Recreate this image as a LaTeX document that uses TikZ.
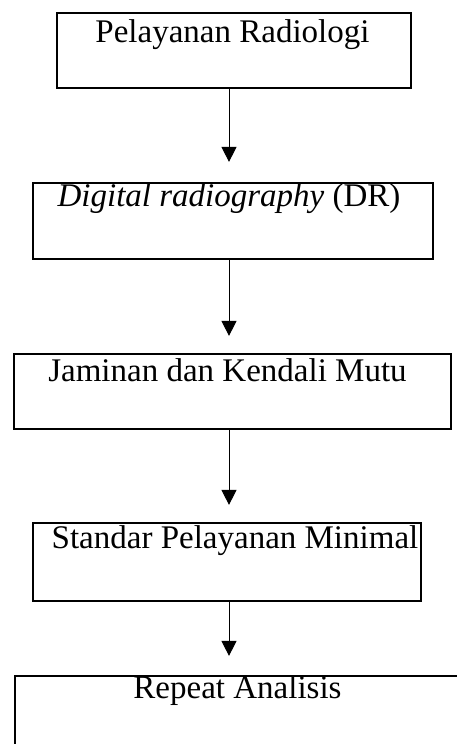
\documentclass[tikz,border=0pt]{standalone}
\usepackage{fontspec}
\setmainfont{Liberation Serif}
\usetikzlibrary{arrows.meta}
\begin{document}
\begin{tikzpicture}[x=1pt,y=-1pt,
  box/.style={draw,line width=2.2pt,rectangle,inner sep=0pt},
  lbl/.style={anchor=base,inner sep=0pt,font=\fontsize{33}{40}\selectfont},
  arr/.style={-{Triangle[width=15pt,length=15pt]},line width=1pt}]
\useasboundingbox (0,0) rectangle (457,744);
\clip (0,0) rectangle (457,744);
\coordinate (ax) at (229,0);
\node[box,minimum width=354pt,minimum height=75pt] (b1) at (234,50.4) {};
\node[box,minimum width=400pt,minimum height=76pt] (b2) at (233,221) {};
\node[box,minimum width=437pt,minimum height=75pt] (b3) at (232.5,391.5) {};
\node[box,minimum width=388pt,minimum height=78pt] (b4) at (227,562) {};
\node[box,minimum width=460pt,minimum height=94pt] (b5) at (245,723) {};
\node[lbl] (t1) at (232.5,42.7) {Pelayanan Radiologi};
\node[lbl] (t2) at (229,206) {\textit{Digital radiography} (DR)};
\node[lbl] (t3) at (227.5,381.7) {Jaminan dan Kendali Mutu};
\node[lbl] (t4) at (235,548) {Standar Pelayanan Minimal};
\node[lbl] (t5) at (237.5,698) {Repeat Analisis};
\draw[arr,shorten >=20pt] (b1.south -| ax) -- (b2.north -| ax);
\draw[arr,shorten >=17pt] (b2.south -| ax) -- (b3.north -| ax);
\draw[arr,shorten >=17pt] (b3.south -| ax) -- (b4.north -| ax);
\draw[arr,shorten >=19pt] (b4.south -| ax) -- (b5.north -| ax);
\end{tikzpicture}
\end{document}
